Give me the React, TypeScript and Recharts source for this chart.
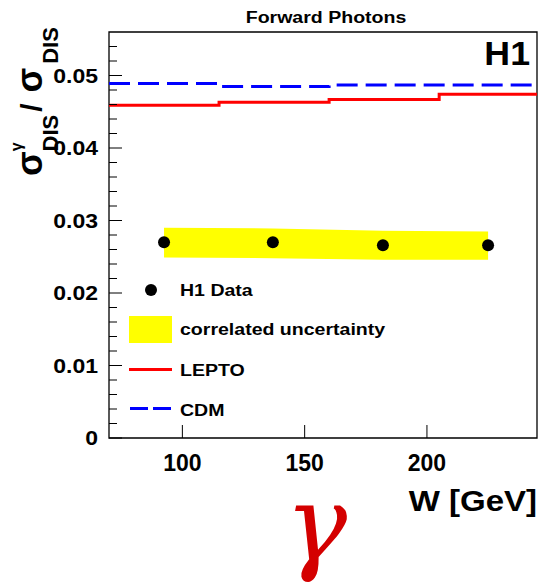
import { Area, ComposedChart, Line, ReferenceArea, Scatter, XAxis, YAxis } from 'recharts'

// H1 data points
const wPoints = [92.5, 137, 182, 225]
const ratioPoints = [0.027, 0.027, 0.0266, 0.0266]
const bandLow = [0.0249, 0.0248, 0.0246, 0.0246]
const bandHigh = [0.029, 0.0289, 0.0286, 0.0285]

// model predictions, histogram bins
const binEdges = [70, 115, 160, 205, 245]
const leptoValues = [0.0459, 0.0463, 0.0467, 0.0474]
const cdmValues = [0.0489, 0.0485, 0.0487, 0.0487]

const xTicks = [100, 150, 200]
const yTicks = [
  0, 0.002, 0.004, 0.006, 0.008, 0.01, 0.012, 0.014, 0.016, 0.018, 0.02, 0.022, 0.024, 0.026, 0.028, 0.03,
  0.032, 0.034, 0.036, 0.038, 0.04, 0.042, 0.044, 0.046, 0.048, 0.05, 0.052, 0.054,
]

const FONT = '"Liberation Sans", Arial, sans-serif'
const W = 542
const H = 586
const PLOT = { left: 109, right: 537, top: 32, bottom: 438 }

const pointRows = wPoints.map((w, i) => ({ w, r: ratioPoints[i] }))
const bandRows = wPoints.map((w, i) => ({ w, band: [bandLow[i], bandHigh[i]] }))
const stepRows = (vals: number[]) => binEdges.map((w, i) => ({ w, v: vals[Math.min(i, vals.length - 1)] }))

function Label({ x, y, size, anchor = 'start', sx = 1.15, children }: any) {
  return (
    <text
      transform={`translate(${x},${y}) scale(${sx},1)`}
      fontSize={size}
      fontFamily={FONT}
      fontWeight="bold"
      textAnchor={anchor}
      fill="#000"
    >
      {children}
    </text>
  )
}

function YTick(props: any) {
  const { y, payload } = props
  const v = payload.value
  const major = Math.abs(v * 100 - Math.round(v * 100)) < 1e-6
  return (
    <g>
      <line x1={PLOT.left} x2={PLOT.left + (major ? 13 : 8)} y1={y} y2={y} stroke="#000" strokeWidth={1} />
      {major && (
        <Label x={98} y={y + 7} size={20} anchor="end">
          {v === 0 ? '0' : v.toFixed(2)}
        </Label>
      )}
    </g>
  )
}

function XTick(props: any) {
  const { x, payload } = props
  return (
    <g>
      <line x1={x} x2={x} y1={PLOT.bottom} y2={PLOT.bottom - 13} stroke="#000" strokeWidth={1} />
      <Label x={x} y={471} size={23} anchor="middle" sx={1}>
        {payload.value}
      </Label>
    </g>
  )
}

function Dot(props: any) {
  return <circle cx={props.cx} cy={props.cy} r={6} fill="#000" />
}

function Overlay() {
  return (
    <svg width={W} height={H} style={{ position: 'absolute', left: 0, top: 0, pointerEvents: 'none' }}>
      <Label x={326} y={23} size={17} anchor="middle">
        Forward Photons
      </Label>
      <Label x={530} y={65} size={34} anchor="end" sx={1.05}>
        H1
      </Label>
      <text transform="translate(42,176) rotate(-90)" fontFamily={FONT} fontWeight="bold" fill="#000">
        <tspan fontSize={36}>σ</tspan>
        <tspan fontSize={16} dy={-20}>
          γ
        </tspan>
        <tspan fontSize={22} dx={-9} dy={36}>
          DIS
        </tspan>
        <tspan fontSize={30} dx={3} dy={-16}>
          /
        </tspan>
        <tspan fontSize={36} dx={11}>
          σ
        </tspan>
        <tspan fontSize={22} dx={4} dy={16}>
          DIS
        </tspan>
      </text>
      <Label x={537} y={511} size={30} anchor="end" sx={1.1}>
        W [GeV]
      </Label>
      <text
        x={316}
        y={560}
        fontSize={104}
        fontFamily='"DejaVu Serif", serif'
        fontStyle="italic"
        fill="#d40000"
        textAnchor="middle"
      >
        γ
      </text>

      {/* legend */}
      <circle cx={151} cy={290} r={6} fill="#000" />
      <Label x={180} y={296} size={17}>
        H1 Data
      </Label>
      <rect x={129} y={316} width={43} height={27} fill="#ffff00" />
      <Label x={180} y={335} size={17}>
        correlated uncertainty
      </Label>
      <line x1={129} x2={172} y1={369.5} y2={369.5} stroke="#ff0000" strokeWidth={3} />
      <Label x={180} y={376} size={17}>
        LEPTO
      </Label>
      <line x1={130} x2={172} y1={408.5} y2={408.5} stroke="#0000ff" strokeWidth={3} strokeDasharray="18 5" />
      <Label x={180} y={416} size={17}>
        CDM
      </Label>
    </svg>
  )
}

export default function App() {
  return (
    <div style={{ position: 'absolute', left: 0, top: 0, width: W, height: H, background: '#fff' }}>
      <ComposedChart width={W} height={H} margin={{ top: PLOT.top, right: W - PLOT.right, bottom: 0, left: 0 }}>
        <XAxis
          dataKey="w"
          type="number"
          domain={[70, 245]}
          allowDataOverflow
          ticks={xTicks}
          interval={0}
          height={H - PLOT.bottom}
          axisLine={false}
          tickLine={false}
          tick={XTick}
        />
        <YAxis
          type="number"
          domain={[0, 0.056]}
          allowDataOverflow
          ticks={yTicks}
          interval={0}
          width={PLOT.left}
          axisLine={false}
          tickLine={false}
          tick={YTick}
        />
        <Area
          data={bandRows}
          dataKey="band"
          type="linear"
          fill="#ffff00"
          fillOpacity={1}
          stroke="none"
          isAnimationActive={false}
        />
        <Line
          data={stepRows(leptoValues)}
          dataKey="v"
          type="stepAfter"
          stroke="#ff0000"
          strokeWidth={3}
          dot={false}
          isAnimationActive={false}
        />
        <Line
          data={stepRows(cdmValues)}
          dataKey="v"
          type="stepAfter"
          stroke="#0000ff"
          strokeWidth={3}
          strokeDasharray="21 8"
          dot={false}
          isAnimationActive={false}
        />
        <Scatter data={pointRows} dataKey="r" shape={Dot} isAnimationActive={false} />
        <ReferenceArea x1={70} x2={245} y1={0} y2={0.056} fill="none" stroke="#000" strokeWidth={1.3} />
      </ComposedChart>
      <Overlay />
    </div>
  )
}
